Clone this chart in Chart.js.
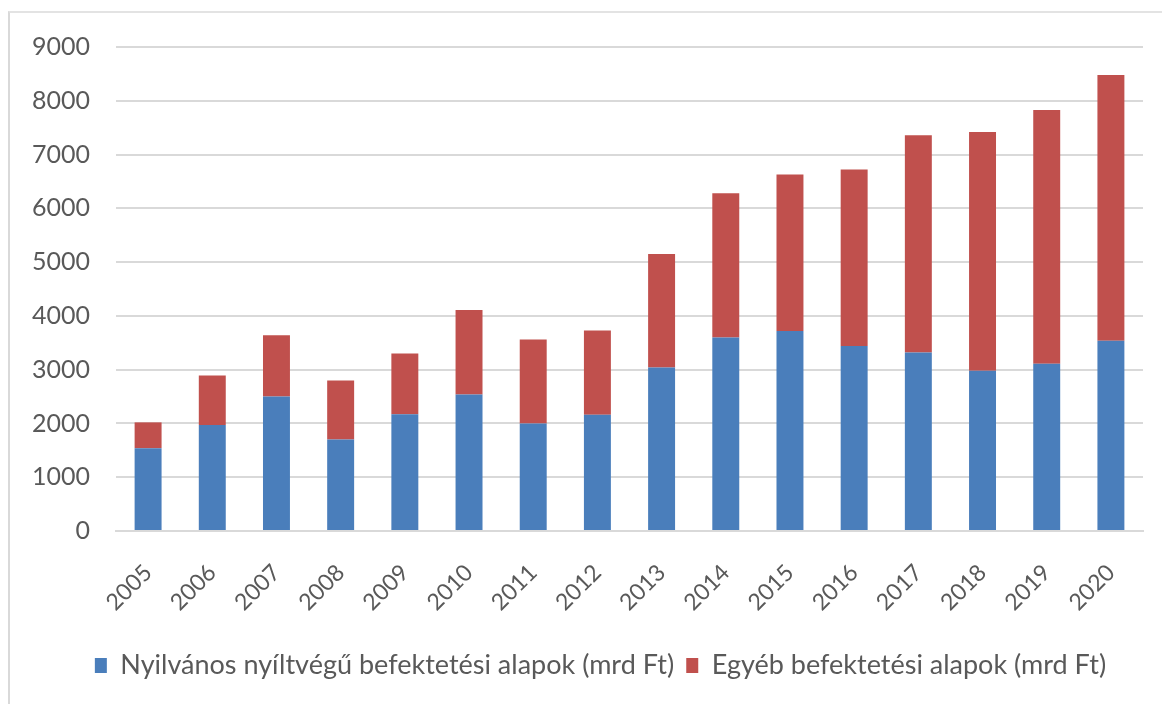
<!DOCTYPE html>
<html>
<head>
<meta charset="utf-8">
<script src="https://cdn.jsdelivr.net/npm/chart.js@4.4.1/dist/chart.umd.min.js"></script>
<style>
  html, body { margin: 0; padding: 0; background: #ffffff; }
  #wrap { position: relative; width: 1162px; height: 704px; overflow: hidden; }
  #frame { position: absolute; left: 8px; top: 11px; width: 1300px; height: 900px;
           border-left: 2px solid #d9d9d9; border-top: 2px solid #e3e3e3; }
  #c { position: absolute; left: 0; top: 0; }
</style>
</head>
<body>
<div id="wrap">
  <div id="frame"></div>
  <canvas id="c" width="1162" height="704"></canvas>
</div>
<script>
const years = ['2005','2006','2007','2008','2009','2010','2011','2012','2013','2014','2015','2016','2017','2018','2019','2020'];
const seriesNames = ['Nyilvános nyíltvégű befektetési alapok (mrd Ft)', 'Egyéb befektetési alapok (mrd Ft)'];
// totals, split into the two stacked parts
const publicOpenEnded = [1540, 1970, 2500, 1700, 2170, 2540, 2000, 2160, 3040, 3600, 3720, 3440, 3320, 2980, 3110, 3540];
const totals          = [2020, 2890, 3640, 2800, 3300, 4110, 3560, 3730, 5150, 6280, 6630, 6720, 7360, 7420, 7830, 8480];
const otherFunds = totals.map((t, i) => t - publicOpenEnded[i]);
const yTicks = [0, 1000, 2000, 3000, 4000, 5000, 6000, 7000, 8000, 9000];

const textColor = '#595959';
const fontFamily = 'Lato, "Open Sans", sans-serif';

// centre the legend under the plot area rather than the whole canvas
const legendShift = {
  id: 'legendShift',
  afterLayout(chart) {
    const l = chart.legend;
    if (l) { l.left += 19; l.right += 19; }
  }
};

new Chart(document.getElementById('c'), {
  type: 'bar',
  data: {
    labels: years,
    datasets: [
      { label: seriesNames[0], data: publicOpenEnded, backgroundColor: '#4a7ebb', borderWidth: 0,
        categoryPercentage: 1, barPercentage: 0.42 },
      { label: seriesNames[1], data: otherFunds, backgroundColor: '#c0504d', borderWidth: 0,
        categoryPercentage: 1, barPercentage: 0.42 }
    ]
  },
  plugins: [legendShift],
  options: {
    responsive: false,
    animation: false,
    layout: { padding: { left: 20, right: 19, top: 47, bottom: 15 } },
    plugins: {
      tooltip: { enabled: false },
      legend: {
        position: 'bottom',
        labels: {
          color: textColor,
          font: { family: fontFamily, size: 27 },
          boxWidth: 12, boxHeight: 15, padding: 12
        }
      }
    },
    scales: {
      x: {
        stacked: true,
        grid: { display: false, drawTicks: false },
        border: { display: true, color: '#d9d9d9', width: 2 },
        ticks: {
          color: textColor, font: { family: fontFamily, size: 23 },
          minRotation: 45, maxRotation: 45, padding: 28
        },
        afterFit: s => { s.height = 109; }
      },
      y: {
        stacked: true,
        min: 0, max: 9000,
        afterBuildTicks: s => { s.ticks = yTicks.map(v => ({ value: v })); },
        grid: { color: '#d9d9d9', lineWidth: 2, drawTicks: false },
        border: { display: false },
        ticks: { color: textColor, font: { family: fontFamily, size: 25 }, padding: 26,
                 callback: v => String(v) },
        afterFit: s => { s.width = 96; }
      }
    }
  }
});
</script>
</body>
</html>
